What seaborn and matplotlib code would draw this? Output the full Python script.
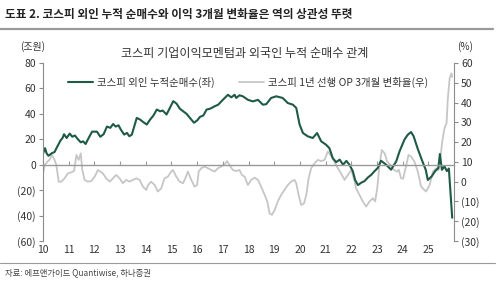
import matplotlib
matplotlib.use("Agg")
import matplotlib.pyplot as plt
from matplotlib.lines import Line2D
import seaborn as sns
import pandas as pd

# ---- data (decimal year) ----
green_x = [2010.00, 2010.08, 2010.14, 2010.21, 2010.34, 2010.45, 2010.55, 2010.68, 2010.76, 2010.82,
           2010.92, 2011.04, 2011.14, 2011.24, 2011.36, 2011.47, 2011.56, 2011.66, 2011.75, 2011.91,
           2012.10, 2012.23, 2012.36, 2012.49, 2012.62, 2012.73, 2012.83, 2012.94, 2013.03, 2013.16,
           2013.27, 2013.36, 2013.46, 2013.55, 2013.65, 2013.78, 2013.91, 2014.04, 2014.17, 2014.30,
           2014.43, 2014.56, 2014.66, 2014.81, 2014.94, 2015.07, 2015.20, 2015.33, 2015.46, 2015.59,
           2015.72, 2015.88, 2016.01, 2016.11, 2016.24, 2016.37, 2016.50, 2016.69, 2016.82, 2017.00,
           2017.20, 2017.33, 2017.46, 2017.52, 2017.65, 2017.78, 2017.98, 2018.17, 2018.37, 2018.56,
           2018.69, 2018.88, 2019.08, 2019.33, 2019.53, 2019.73, 2019.86, 2019.99, 2020.12, 2020.31,
           2020.50, 2020.67, 2020.83, 2021.02, 2021.15, 2021.28, 2021.41, 2021.55, 2021.68, 2021.81,
           2021.93, 2022.06, 2022.15, 2022.26, 2022.40, 2022.51, 2022.65, 2022.78, 2022.90, 2023.03,
           2023.16, 2023.36, 2023.55, 2023.75, 2023.88, 2024.07, 2024.20, 2024.33, 2024.43, 2024.58,
           2024.77, 2024.90, 2024.98, 2025.13, 2025.26, 2025.39, 2025.45, 2025.53, 2025.63, 2025.72,
           2025.80, 2025.93]
green_y = [8.7, 13, 9, 7, 9, 10, 14, 19, 21, 24,
           21, 24.5, 22, 23, 20, 17.6, 18.4, 16.3, 20, 26,
           26, 22, 24, 30, 29, 32, 30, 31, 27.6, 23.7,
           25, 22.4, 23.7, 30, 36.8, 35.5, 33.4, 31.6, 35.5, 38.7,
           43.4, 42, 42.6, 39.5, 44.7, 50, 48, 44, 42, 40,
           36.8, 33, 35, 37.6, 38.7, 43.4, 44, 46, 47.2, 51,
           55, 53, 55, 52.5, 54.6, 53.8, 51, 49.8, 51, 47.2,
           47.6, 52.5, 53.8, 52.5, 48.5, 47.2, 44.6, 31.5, 24.9, 22.3,
           21, 24.9, 18.4, 15.7, 13, 5.2, 2, 4, 0, 3,
           0, -5, -12, -16, -14, -13, -10, -7.9, -5.2, -2.6,
           3.1, 0, -3.9, 2.6, 10.5, 19.7, 23.6, 25.7, 22.3, 13,
           2.6, -4, -12, -9.2, -5.2, -2.6, 8.4, -4, -1.3, -5,
           -3, -41.7]

gray_x = [2010.00, 2010.07, 2010.17, 2010.25, 2010.35, 2010.45, 2010.52, 2010.61, 2010.71, 2010.84,
          2010.97, 2011.10, 2011.21, 2011.30, 2011.39, 2011.47, 2011.53, 2011.62, 2011.75, 2011.88,
          2012.01, 2012.14, 2012.33, 2012.46, 2012.60, 2012.72, 2012.85, 2012.98, 2013.11, 2013.24,
          2013.37, 2013.50, 2013.63, 2013.76, 2013.89, 2014.02, 2014.09, 2014.21, 2014.35, 2014.47,
          2014.60, 2014.73, 2014.86, 2014.99, 2015.06, 2015.19, 2015.32, 2015.45, 2015.54, 2015.64,
          2015.77, 2015.90, 2016.00, 2016.06, 2016.16, 2016.29, 2016.42, 2016.55, 2016.68, 2016.81,
          2016.94, 2017.07, 2017.17, 2017.26, 2017.39, 2017.52, 2017.65, 2017.74, 2017.85, 2017.98,
          2018.10, 2018.24, 2018.37, 2018.49, 2018.63, 2018.73, 2018.82, 2018.91, 2019.02, 2019.14,
          2019.27, 2019.40, 2019.53, 2019.66, 2019.79, 2019.86, 2019.95, 2020.05, 2020.16, 2020.25,
          2020.34, 2020.44, 2020.57, 2020.70, 2020.83, 2020.96, 2021.09, 2021.19, 2021.28, 2021.37,
          2021.48, 2021.60, 2021.74, 2021.87, 2022.00, 2022.10, 2022.19, 2022.32, 2022.45, 2022.58,
          2022.71, 2022.84, 2022.93, 2023.01, 2023.10, 2023.19, 2023.30, 2023.40, 2023.53, 2023.66,
          2023.79, 2023.85, 2023.94, 2024.02, 2024.14, 2024.23, 2024.33, 2024.46, 2024.59, 2024.72,
          2024.85, 2024.91, 2025.05, 2025.18, 2025.30, 2025.40, 2025.47, 2025.54, 2025.63, 2025.71,
          2025.76, 2025.83, 2025.90, 2025.93]
gray_y = [4, 8.4, 10.1, 11, 13.5, 11, 8.4, 0, 0, 1.7,
          4.2, 4.7, 5.4, 13.5, 11, 14.3, 5.9, 0.9, 0, 0.3,
          2.5, 5.9, 4.2, 1.7, 0, 1.7, 3.4, 1.7, -0.8, 0.9,
          0, 0.9, 1.7, 0.9, -2.5, -4.2, -1.7, 0, -1.7, -5,
          -3.4, 1.7, 2.5, 5.1, 5.9, 2.5, 0, -0.8, 1.7, 5.1,
          0.9, -2.5, -1.7, 5.1, 6.8, 7.6, 6.8, 5.9, 5.1, 6.8,
          7.6, 8.8, 10.4, 8.4, 5.9, 5.4, 5.9, 3.4, 2.5, -1.7,
          0.9, 2, 0.9, -2.5, -6.7, -10, -16, -16.8, -14.3, -10,
          -6.7, -4.2, -1.7, 0, 0.9, -0.8, -6.7, -11.8, -11, -6.7,
          1.7, 6.8, 9.3, 11, 10.4, 11, 15.2, 13.5, 11.8, 9.3,
          6.8, 4.2, 0.9, 3.4, 5.9, 1.7, -3.4, -6.7, -10, -12.6,
          -10, -8.4, -10, -3.4, 8.4, 16, 14.3, 10.1, 8.4, 5.9,
          5.1, 6, 1.7, 1.5, 8.4, 13.5, 12.7, 10.1, 5.1, -2.5,
          -4.2, -5, -1.7, 5.1, 6.8, 5.9, 11.8, 20.2, 27, 29.5,
          42, 52.2, 54.8, 53]

year_ticks = list(range(2010, 2026))
year_labels = [str(y % 100) for y in year_ticks]
left_ticks = [-60, -40, -20, 0, 20, 40, 60, 80]
left_labels = ['(60)', '(40)', '(20)', '0', '20', '40', '60', '80']
right_ticks = [-30, -20, -10, 0, 10, 20, 30, 40, 50, 60]
right_labels = ['(30)', '(20)', '(10)', '0', '10', '20', '30', '40', '50', '60']

title = '도표 2. 코스피 외인 누적 순매수와 이익 3개월 변화율은 역의 상관성 뚜렷'
chart_title = '코스피 기업이익모멘텀과 외국인 누적 순매수 관계'
green_name = '코스피 외인 누적순매수(좌)'
gray_name = '코스피 1년 선행 OP 3개월 변화율(우)'
source = '자료: 에프앤가이드 Quantiwise, 하나증권'

# ---- style ----
sns.set_theme(style='white')
plt.rcParams['font.family'] = ['Noto Sans CJK KR', 'DejaVu Sans']
GREEN = '#1f5a47'
GRAY = '#c6c6c6'
AXC = '#8c8c8c'
TXT = '#333333'

df_g = pd.DataFrame({'x': green_x, 'y': green_y})
df_r = pd.DataFrame({'x': gray_x, 'y': gray_y})

fig = plt.figure(figsize=(5, 2.83), dpi=100)
ax = fig.add_axes([0.086, 0.1484, 0.822, 0.629])
ax2 = ax.twinx()

sns.lineplot(data=df_r, x='x', y='y', ax=ax2, color=GRAY, lw=1.3)
sns.lineplot(data=df_g, x='x', y='y', ax=ax, color=GREEN, lw=1.5)

ax.set_zorder(ax2.get_zorder() + 1)
ax.patch.set_visible(False)

ax.set_xlim(2010, 2026)
ax.set_ylim(-60, 80)
ax2.set_ylim(-30, 60)
ax.set_xlabel('')
ax.set_ylabel('')
ax2.set_xlabel('')
ax2.set_ylabel('')

for s in ['top', 'right']:
    ax.spines[s].set_visible(False)
for s in ['top', 'left', 'bottom']:
    ax2.spines[s].set_visible(False)
ax.spines['left'].set_color(AXC)
ax.spines['left'].set_linewidth(0.8)
ax.spines['bottom'].set_position(('data', 0))
ax.spines['bottom'].set_color('#999999')
ax.spines['bottom'].set_linewidth(1.0)
ax2.spines['right'].set_color(AXC)
ax2.spines['right'].set_linewidth(0.8)

ax.set_yticks(left_ticks, left_labels)
ax2.set_yticks(right_ticks, right_labels)
ax.set_xticks(year_ticks)
ax.tick_params(axis='x', direction='in', length=3, width=0.8, color='#999999', labelbottom=False, bottom=True)
ax.tick_params(axis='y', direction='out', length=3, width=0.8, color=AXC, labelsize=7.5, labelcolor=TXT, pad=2, left=True)
ax2.tick_params(axis='y', direction='out', length=3, width=0.8, color=AXC, labelsize=7.5, labelcolor=TXT, pad=2, right=True)
ax.grid(False)
ax2.grid(False)

sec = ax.secondary_xaxis('bottom')
sec.set_xticks(year_ticks, year_labels)
sec.tick_params(length=0, labelsize=7.5, labelcolor=TXT, pad=3)
sec.spines['bottom'].set_visible(False)

# legend
h1 = Line2D([], [], color=GREEN, lw=1.5)
h2 = Line2D([], [], color=GRAY, lw=1.3)
fig.legend([h1, h2], [green_name, gray_name], loc='center left',
           bbox_to_anchor=(68 / 500, 1 - 82 / 283), ncol=2, frameon=False,
           fontsize=7.5, handlelength=2.4, handletextpad=0.35, columnspacing=2.4,
           borderpad=0, borderaxespad=0, labelcolor=TXT)

# texts
fig.text(5 / 500, 1 - 14 / 283, title, fontsize=8.4, fontweight='bold', color='#222222', va='center', ha='left')
fig.add_artist(Line2D([0, 0.986], [1 - 29 / 283, 1 - 29 / 283], transform=fig.transFigure, color='#9a9a9a', lw=1.6))
fig.text(245 / 500, 1 - 54 / 283, chart_title, fontsize=8.7, color=TXT, va='center', ha='center')
fig.text(33 / 500, 1 - 47 / 283, '(조원)', fontsize=7.2, color=TXT, va='center', ha='center')
fig.text(465 / 500, 1 - 47 / 283, '(%)', fontsize=7.2, color=TXT, va='center', ha='center')
fig.add_artist(Line2D([0, 0.99], [1 - 263 / 283, 1 - 263 / 283], transform=fig.transFigure, color='#9a9a9a', lw=0.8))
fig.text(5 / 500, 1 - 273 / 283, source, fontsize=6, color='#444444', va='center', ha='left')

fig.savefig('out.png', dpi=100)
